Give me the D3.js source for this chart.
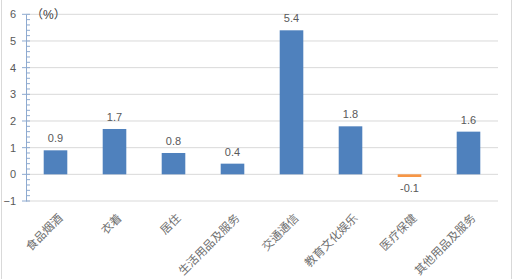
<!DOCTYPE html>
<html>
<head>
<meta charset="utf-8">
<script src="https://cdn.jsdelivr.net/npm/d3@7"></script>
<style>
  body { margin: 0; background: #fff; }
  text { font-family: "Liberation Sans", "Noto Sans CJK SC", sans-serif; }
</style>
</head>
<body>
<div id="chart"></div>
<script>
const width = 514
const height = 279
const margin = { top: 14.3, bottom: 78, left: 26, right: 15 }

// datos
const categories = ["食品烟酒", "衣着", "居住", "生活用品及服务", "交通通信", "教育文化娱乐", "医疗保健", "其他用品及服务"]
const values = [0.9, 1.7, 0.8, 0.4, 5.4, 1.8, -0.1, 1.6]
const yTicks = [-1, 0, 1, 2, 3, 4, 5, 6]
const unitLabel = "（%）"

const svg = d3.select("#chart").append("svg").attr("width", width).attr("height", height)

// borde
svg.append("rect").attr("x", 1.5).attr("y", -2).attr("width", 510).attr("height", height + 4)
    .attr("fill", "#fff").attr("stroke", "#d9d9d9")

const innerW = width - margin.left - margin.right - 1
const yBottom = 201

const x = d3.scaleBand().domain(categories).range([margin.left, margin.left + innerW]).paddingInner(0.6).paddingOuter(0.3)
const y = d3.scaleLinear().domain([-1, 6]).range([yBottom, margin.top])

// rejilla
svg.append("g").selectAll("line").data(yTicks).enter().append("line")
    .attr("x1", margin.left).attr("x2", margin.left + innerW)
    .attr("y1", d => y(d)).attr("y2", d => y(d))
    .attr("stroke", "#d9d9d9").attr("stroke-width", 1)

// barras
svg.append("g").selectAll("rect").data(values).enter().append("rect")
    .attr("x", (d, i) => x(categories[i]))
    .attr("y", d => y(Math.max(0, d)))
    .attr("width", x.bandwidth())
    .attr("height", d => Math.abs(y(d) - y(0)))
    .attr("fill", d => d < 0 ? "#f79646" : "#4f81bd")

// etiquetas de valor
svg.append("g").selectAll("text").data(values).enter().append("text")
    .attr("x", (d, i) => x(categories[i]) + x.bandwidth() / 2)
    .attr("y", d => d < 0 ? y(d) + 15 : y(d) - 8)
    .attr("text-anchor", "middle")
    .attr("font-size", 11)
    .attr("fill", "#595959")
    .text(d => d.toFixed(1))

// eje y
const yAxis = d3.axisLeft(y).tickValues(yTicks).tickSize(0).tickPadding(10).tickFormat(d3.format("d"))
const yAxisGroup = svg.append("g").attr("transform", `translate(${margin.left}, 0)`).call(yAxis)
yAxisGroup.select(".domain").attr("stroke", "#8eaad0")
yAxisGroup.selectAll("text").attr("font-size", 11).attr("fill", "#595959")
    .attr("font-family", "Liberation Sans, sans-serif")

const minor = d3.range(-1, 6.001, 0.2).map(v => Math.round(v * 10) / 10)
svg.append("g").selectAll("line").data(minor).enter().append("line")
    .attr("x1", d => Number.isInteger(d) ? margin.left - 4 : margin.left)
    .attr("x2", margin.left + 4)
    .attr("y1", d => y(d)).attr("y2", d => y(d))
    .attr("stroke", "#8eaad0")

// unidad
svg.append("text").attr("x", 31).attr("y", y(6) + 5).attr("font-size", 12).attr("fill", "#404040")
    .attr("font-family", "Noto Sans CJK SC, sans-serif")
    .text(unitLabel)

// etiquetas de categoría
svg.append("g").selectAll("text").data(categories).enter().append("text")
    .attr("transform", d => `translate(${x(d) + x.bandwidth() / 2 + 5}, ${yBottom + 15}) rotate(-45)`)
    .attr("text-anchor", "end")
    .attr("dy", "0.35em")
    .attr("font-size", 11.5)
    .attr("fill", "#707070")
    .attr("font-family", "Noto Sans CJK SC, sans-serif")
    .text(d => d)
</script>
</body>
</html>
